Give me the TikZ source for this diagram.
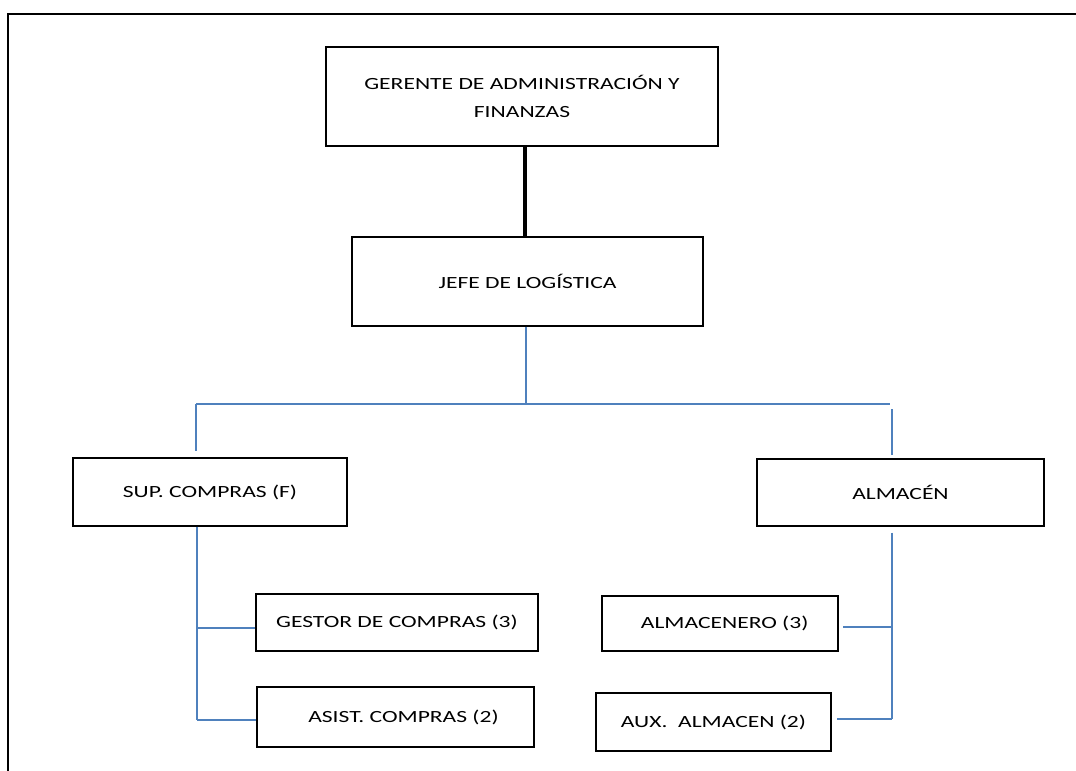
\documentclass[tikz,border=0pt]{standalone}
\usepackage{fontspec}
\setmainfont{Carlito}
\newfontfamily\boxfont[FakeStretch=1.38]{Carlito}
\definecolor{linkblue}{RGB}{79,129,189}
\begin{document}
\begin{tikzpicture}[x=0.75pt,y=-0.75pt,
  box/.style={draw=black,line width=0.8pt,rectangle,inner sep=0pt,align=center,
    font=\boxfont\fontsize{12.8}{21}\selectfont},
  link/.style={draw=linkblue,line width=0.8pt},
  frame/.style={draw=black,line width=1.6pt}]
\useasboundingbox (0,0) rectangle (1076,771);
\draw[frame] (8,771) -- (8,14) -- (1076,14);

\node[box,minimum width=294pt,minimum height=74.25pt] (ger) at (522,96.5)
  {GERENTE DE ADMINISTRACIÓN Y\\FINANZAS};
\node[box,minimum width=263.25pt,minimum height=66.75pt] (jefe) at (527.5,281.5)
  {JEFE DE LOGÍSTICA};
\node[box,minimum width=205.5pt,minimum height=51pt] (sup) at (210,492)
  {SUP. COMPRAS (F)};
\node[box,minimum width=215.25pt,minimum height=50.25pt] (alm) at (900.5,492.5)
  {ALMACÉN};
\node[box,minimum width=211.5pt,minimum height=42.75pt] (ges) at (397,622.5)
  {GESTOR DE COMPRAS (3)};
\node[box,minimum width=207.75pt,minimum height=45pt] (asi) at (395.5,717)
  {\hspace*{12pt}ASIST. COMPRAS (2)};
\node[box,minimum width=177pt,minimum height=41.25pt] (almc) at (720,623.5)
  {\hspace*{7pt}ALMACENERO (3)};
\node[box,minimum width=176.25pt,minimum height=43.5pt] (aux) at (713.5,722)
  {AUX.\ \ ALMACEN (2)};

% thick link
\draw[line width=3pt] ([xshift=2.25pt]ger.south) -- ([xshift=2.25pt]ger.south |- jefe.north);

% blue links
\coordinate (hl) at (196,404);
\coordinate (hr) at (890,404);
\coordinate (hr2) at (892,404);
\coordinate (lb1) at (197,628);
\coordinate (lb2) at (197,720);
\coordinate (rb1) at (892,627);
\coordinate (rb2) at (892,719);

\draw[link] (jefe.south -| 526,0) -- (526,404);
\draw[link] (hl) -- (hr);
\draw[link,shorten >=4.5pt] (hl) -- (hl |- sup.north);
\draw[link,shorten <=3.75pt,shorten >=2.25pt] (hr2) -- (hr2 |- alm.north);
\draw[link] (lb1 |- sup.south) -- (lb2);
\draw[link] (lb1) -- (lb1 -| ges.west);
\draw[link] (lb2) -- (lb2 -| asi.west);
\draw[link,shorten <=4.5pt] (rb1 |- alm.south) -- (rb2);
\draw[link,shorten >=3pt] (rb1) -- (rb1 -| almc.east);
\draw[link,shorten >=3.75pt] (rb2) -- (rb2 -| aux.east);
\end{tikzpicture}
\end{document}
